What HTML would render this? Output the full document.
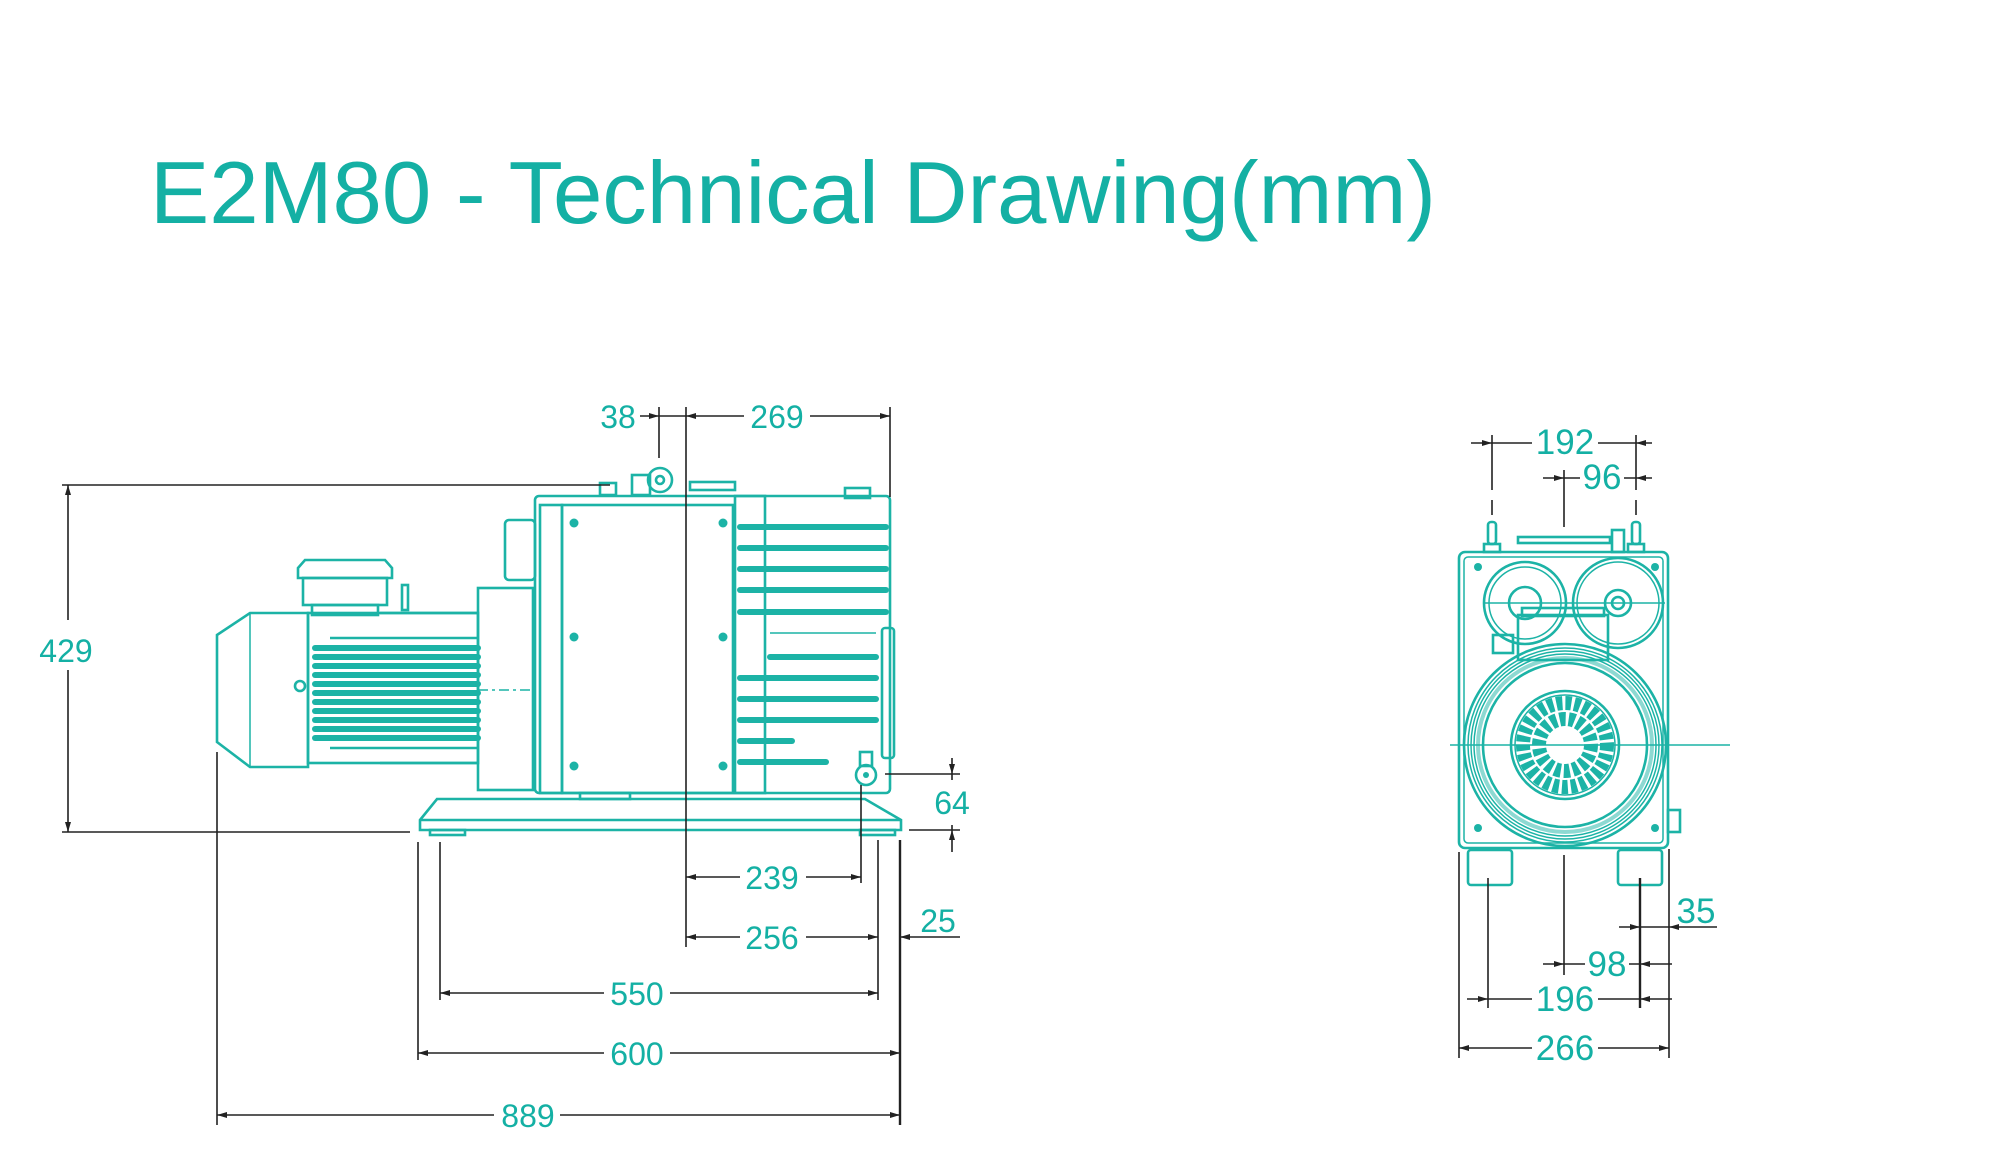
<!DOCTYPE html>
<html><head><meta charset="utf-8"><style>
html,body{margin:0;padding:0;background:#fff;}
svg{display:block;}
.t{font-family:"Liberation Sans",sans-serif;fill:#14b0a4;}
.d{stroke:#222;stroke-width:1.6;fill:none;}
.g{stroke:#1cb3a6;stroke-width:2.6;fill:none;}
.gt{stroke:#1cb3a6;stroke-width:1.5;fill:none;}
.gf{stroke:#1cb3a6;stroke-width:6;fill:none;stroke-linecap:round;}
.ah{fill:#222;}
</style></head><body>
<svg width="2000" height="1150" viewBox="0 0 2000 1150" xmlns="http://www.w3.org/2000/svg">
<text class="t" x="150" y="223" font-size="88" textLength="1286" lengthAdjust="spacingAndGlyphs">E2M80 - Technical Drawing(mm)</text>

<!-- ===== SIDE VIEW ===== -->
<path class="g" d="M308 613 L250 613 L217 635 L217 742 L250 767 L308 767 Z"/>
<line class="gt" x1="250" y1="613" x2="250" y2="767"/>
<rect class="g" x="308" y="613" width="170" height="150"/>
<g class="gf">
<line x1="315" y1="648" x2="478" y2="648"/><line x1="315" y1="657" x2="478" y2="657"/>
<line x1="315" y1="666" x2="478" y2="666"/><line x1="315" y1="675" x2="478" y2="675"/>
<line x1="315" y1="684" x2="478" y2="684"/><line x1="315" y1="693" x2="478" y2="693"/>
<line x1="315" y1="702" x2="478" y2="702"/><line x1="315" y1="711" x2="478" y2="711"/>
<line x1="315" y1="720" x2="478" y2="720"/><line x1="315" y1="729" x2="478" y2="729"/>
<line x1="315" y1="738" x2="478" y2="738"/>
</g>
<line class="g" x1="330" y1="638" x2="478" y2="638"/>
<line class="g" x1="330" y1="748" x2="478" y2="748"/>
<line class="g" x1="380" y1="613" x2="478" y2="613" stroke-width="6"/>
<line class="g" x1="380" y1="763" x2="478" y2="763" stroke-width="6"/>
<circle class="g" cx="300" cy="686" r="5"/>
<path class="g" d="M298 568 L305 560 L385 560 L392 568 L392 578 L298 578 Z"/>
<rect class="g" x="303" y="578" width="84" height="27"/>
<rect class="g" x="312" y="605" width="66" height="10"/>
<rect class="g" x="402" y="585" width="6" height="25"/>
<rect class="g" x="478" y="588" width="55" height="202"/>
<rect class="g" x="535" y="496" width="355" height="297" rx="4"/>
<rect class="g" x="562" y="505" width="171" height="288"/>
<rect class="g" x="540" y="505" width="22" height="288"/>
<rect class="g" x="505" y="520" width="30" height="60" rx="4"/>
<g fill="#1cb3a6"><circle cx="574" cy="523" r="4.5"/><circle cx="574" cy="637" r="4.5"/><circle cx="574" cy="766" r="4.5"/>
<circle cx="723" cy="523" r="4.5"/><circle cx="723" cy="637" r="4.5"/><circle cx="723" cy="766" r="4.5"/></g>
<rect class="g" x="735" y="496" width="30" height="297"/>
<g class="gf">
<line x1="740" y1="527" x2="886" y2="527"/><line x1="740" y1="548" x2="886" y2="548"/>
<line x1="740" y1="569" x2="886" y2="569"/><line x1="740" y1="590" x2="886" y2="590"/>
<line x1="740" y1="612" x2="886" y2="612"/>
<line x1="770" y1="657" x2="876" y2="657"/><line x1="740" y1="678" x2="876" y2="678"/>
<line x1="740" y1="699" x2="876" y2="699"/><line x1="740" y1="720" x2="876" y2="720"/>
<line x1="740" y1="741" x2="792" y2="741"/><line x1="740" y1="762" x2="826" y2="762"/>
</g>
<line class="gt" x1="770" y1="633" x2="876" y2="633"/>
<rect class="g" x="882" y="628" width="12" height="130" rx="3"/>
<circle class="g" cx="660" cy="480" r="12"/><circle class="g" cx="660" cy="480" r="4"/>
<rect class="g" x="632" y="475" width="18" height="20"/>
<rect class="g" x="690" y="482" width="45" height="8"/>
<rect class="g" x="600" y="483" width="16" height="12"/>
<rect class="g" x="845" y="488" width="25" height="10"/>
<circle class="g" cx="866" cy="775" r="10"/><circle fill="#1cb3a6" cx="866" cy="775" r="3"/>
<rect class="g" x="860" y="752" width="12" height="14"/>
<path class="g" d="M437 799 L865 799 L901 820 L901 830 L420 830 L420 820 Z"/>
<line class="g" x1="420" y1="820" x2="901" y2="820"/>
<rect class="g" x="430" y="830" width="35" height="5"/><rect class="g" x="860" y="830" width="35" height="5"/>
<rect class="g" x="580" y="793" width="50" height="6"/>

<line class="d" x1="686" y1="407" x2="686" y2="947" stroke-width="2"/>
<line class="gt" x1="478" y1="690" x2="535" y2="690" stroke-dasharray="10 4 3 4"/>

<g class="d">
<line x1="62" y1="485" x2="610" y2="485"/>
<line x1="62" y1="832" x2="410" y2="832"/>
<line x1="68" y1="485" x2="68" y2="620"/><line x1="68" y1="670" x2="68" y2="832"/>
<line x1="640" y1="416" x2="890" y2="416"/>
<line x1="659" y1="407" x2="659" y2="458"/>
<line x1="890" y1="407" x2="890" y2="497"/>
<line x1="885" y1="774" x2="960" y2="774"/>
<line x1="909" y1="830" x2="960" y2="830"/>
<line x1="952" y1="758" x2="952" y2="780"/><line x1="952" y1="825" x2="952" y2="852"/>
<line x1="686" y1="877" x2="861" y2="877"/>
<line x1="861" y1="785" x2="861" y2="883"/>
<line x1="686" y1="937" x2="878" y2="937"/>
<line x1="900" y1="937" x2="960" y2="937"/>
<line x1="878" y1="840" x2="878" y2="1000"/>
<line x1="900" y1="840" x2="900" y2="1125" stroke-width="2.4"/>
<line x1="440" y1="993" x2="878" y2="993"/>
<line x1="440" y1="842" x2="440" y2="1000"/>
<line x1="418" y1="1053" x2="900" y2="1053"/>
<line x1="418" y1="842" x2="418" y2="1060"/>
<line x1="217" y1="1115" x2="900" y2="1115"/>
<line x1="217" y1="752" x2="217" y2="1125"/>
</g>
<g class="ah">
<path d="M68 485 l-3 10 h6z"/><path d="M68 832 l-3 -10 h6z"/>
<path d="M659 416 l-10 -3 v6z"/><path d="M686 416 l10 -3 v6z"/><path d="M890 416 l-10 -3 v6z"/>
<path d="M952 774 l-3 -10 h6z"/><path d="M952 830 l-3 10 h6z"/>
<path d="M686 877 l10 -3 v6z"/><path d="M861 877 l-10 -3 v6z"/>
<path d="M686 937 l10 -3 v6z"/><path d="M878 937 l-10 -3 v6z"/><path d="M900 937 l10 -3 v6z"/>
<path d="M440 993 l10 -3 v6z"/><path d="M878 993 l-10 -3 v6z"/>
<path d="M418 1053 l10 -3 v6z"/><path d="M900 1053 l-10 -3 v6z"/>
<path d="M217 1115 l10 -3 v6z"/><path d="M900 1115 l-10 -3 v6z"/>
</g>
<g class="t" font-size="32" text-anchor="middle">
<rect x="30" y="625" width="70" height="42" fill="#fff"/>
<text x="66" y="662">429</text>
<text x="618" y="428">38</text>
<rect x="744" y="400" width="66" height="30" fill="#fff"/>
<text x="777" y="428">269</text>
<text x="952" y="814">64</text>
<rect x="740" y="860" width="66" height="30" fill="#fff"/>
<text x="772" y="889">239</text>
<rect x="740" y="920" width="66" height="30" fill="#fff"/>
<text x="772" y="949">256</text>
<text x="938" y="932">25</text>
<rect x="604" y="976" width="66" height="30" fill="#fff"/>
<text x="637" y="1005">550</text>
<rect x="604" y="1036" width="66" height="30" fill="#fff"/>
<text x="637" y="1065">600</text>
<rect x="494" y="1098" width="66" height="30" fill="#fff"/>
<text x="528" y="1127">889</text>
</g>

<!-- ===== FRONT VIEW ===== -->
<rect class="g" x="1459" y="552" width="209" height="296" rx="6"/>
<rect class="gt" x="1464" y="557" width="199" height="286" rx="4"/>
<circle class="g" cx="1525" cy="603" r="41"/><circle class="gt" cx="1525" cy="603" r="36"/>
<circle class="g" cx="1525" cy="603" r="16"/>
<circle class="g" cx="1618" cy="603" r="45"/><circle class="gt" cx="1618" cy="603" r="41"/>
<circle class="g" cx="1618" cy="603" r="13"/><circle class="g" cx="1618" cy="603" r="6"/>
<circle class="g" cx="1565" cy="745" r="101"/><circle class="gt" cx="1565" cy="745" r="97"/>
<circle class="gt" cx="1565" cy="745" r="94"/><circle class="gt" cx="1565" cy="745" r="91"/>
<circle cx="1565" cy="745" r="87" fill="none" stroke="#1cb3a6" stroke-width="4" opacity="0.5"/>
<circle class="g" cx="1565" cy="745" r="82"/>
<circle class="g" cx="1565" cy="745" r="54"/><circle class="gt" cx="1565" cy="745" r="50"/>
<g fill="#1cb3a6">
<circle cx="1565" cy="745" r="42" fill="none" stroke="#1cb3a6" stroke-width="14" stroke-dasharray="6 3"/>
<circle cx="1565" cy="745" r="26" fill="none" stroke="#1cb3a6" stroke-width="14" stroke-dasharray="6 3"/>
<circle cx="1478" cy="567" r="4"/><circle cx="1655" cy="567" r="4"/><circle cx="1478" cy="828" r="4"/><circle cx="1655" cy="828" r="4"/>
</g>
<rect class="g" x="1518" y="615" width="90" height="45" fill="#fff"/>
<rect class="g" x="1522" y="608" width="82" height="8" fill="#fff"/>
<rect class="g" x="1493" y="635" width="20" height="18"/>
<rect class="g" x="1488" y="522" width="8" height="22" rx="3"/><rect class="g" x="1484" y="544" width="16" height="8"/>
<rect class="g" x="1632" y="522" width="8" height="22" rx="3"/><rect class="g" x="1628" y="544" width="16" height="8"/>
<rect class="g" x="1518" y="537" width="92" height="6"/>
<rect class="g" x="1612" y="530" width="12" height="22"/>
<rect class="g" x="1468" y="850" width="44" height="35" rx="3"/>
<rect class="g" x="1618" y="850" width="44" height="35" rx="3"/>
<rect class="g" x="1668" y="810" width="12" height="22"/>
<line class="gt" x1="1450" y1="745" x2="1730" y2="745"/>
<line class="gt" x1="1485" y1="603" x2="1665" y2="603"/>
<g class="d">
<line x1="1471" y1="443" x2="1652" y2="443"/>
<line x1="1492" y1="435" x2="1492" y2="490"/><line x1="1492" y1="500" x2="1492" y2="515" />
<line x1="1636" y1="435" x2="1636" y2="490"/><line x1="1636" y1="500" x2="1636" y2="515"/>
<line x1="1543" y1="478" x2="1652" y2="478"/>
<line x1="1564" y1="470" x2="1564" y2="527"/>
<line x1="1564" y1="855" x2="1564" y2="975"/>
<line x1="1619" y1="927" x2="1717" y2="927"/>
<line x1="1543" y1="964" x2="1672" y2="964"/>
<line x1="1467" y1="999" x2="1672" y2="999"/>
<line x1="1459" y1="1048" x2="1669" y2="1048"/>
<line x1="1459" y1="852" x2="1459" y2="1058"/>
<line x1="1669" y1="849" x2="1669" y2="1058"/>
<line x1="1488" y1="878" x2="1488" y2="1008"/>
<line x1="1640" y1="878" x2="1640" y2="1008" stroke-width="2.4"/>
</g>
<g class="ah">
<path d="M1492 443 l-10 -3 v6z"/><path d="M1636 443 l10 -3 v6z"/>
<path d="M1564 478 l-10 -3 v6z"/><path d="M1636 478 l10 -3 v6z"/>
<path d="M1640 927 l-10 -3 v6z"/><path d="M1669 927 l10 -3 v6z"/>
<path d="M1564 964 l-10 -3 v6z"/><path d="M1640 964 l10 -3 v6z"/>
<path d="M1488 999 l-10 -3 v6z"/><path d="M1640 999 l10 -3 v6z"/>
<path d="M1459 1048 l10 -3 v6z"/><path d="M1669 1048 l-10 -3 v6z"/>
</g>
<g class="t" font-size="35" text-anchor="middle">
<rect x="1532" y="425" width="66" height="32" fill="#fff"/>
<text x="1565" y="454">192</text>
<rect x="1580" y="460" width="44" height="32" fill="#fff"/>
<text x="1602" y="489">96</text>
<text x="1696" y="923">35</text>
<rect x="1585" y="946" width="44" height="32" fill="#fff"/>
<text x="1607" y="976">98</text>
<rect x="1532" y="982" width="66" height="32" fill="#fff"/>
<text x="1565" y="1011">196</text>
<rect x="1532" y="1031" width="66" height="32" fill="#fff"/>
<text x="1565" y="1060">266</text>
</g>
</svg>
</body></html>
